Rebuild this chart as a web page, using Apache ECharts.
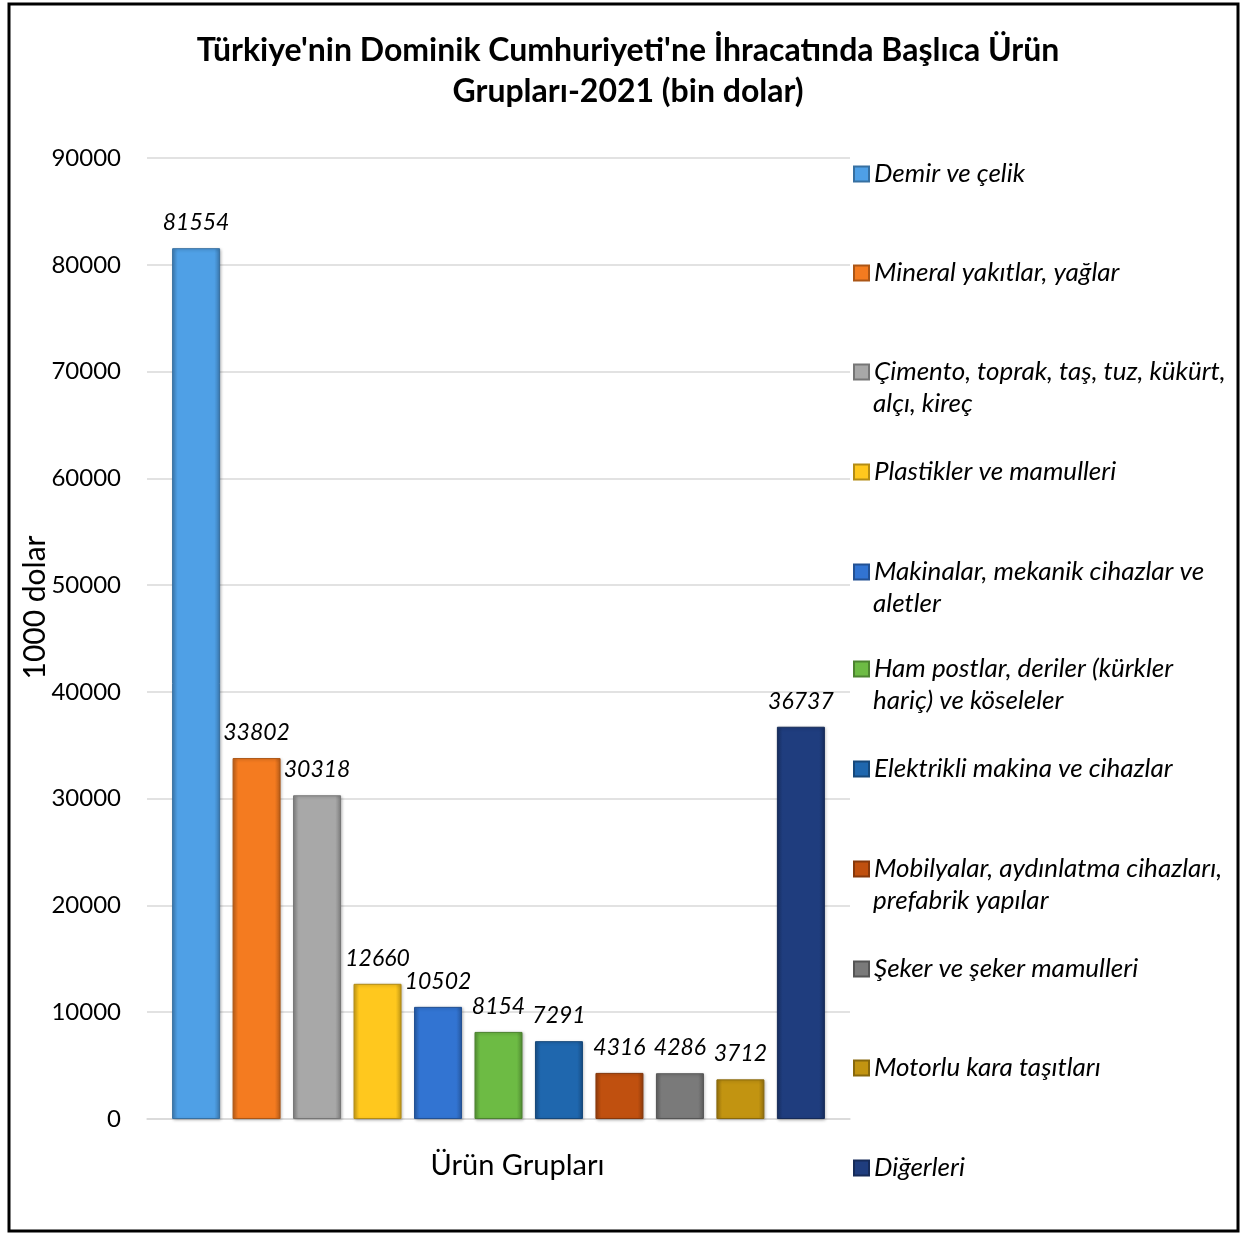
<!DOCTYPE html>
<html>
<head>
<meta charset="utf-8">
<script src="https://cdn.jsdelivr.net/npm/echarts@6/dist/echarts.min.js"></script>
<style>
  html, body { margin: 0; padding: 0; background: #fff; }
  #chart { width: 1246px; height: 1234px; }
</style>
</head>
<body>
<div id="chart"></div>
<script>
// data
const categories = ['Ürün Grupları'];
const productGroups = [
  'Demir ve çelik',
  'Mineral yakıtlar, yağlar',
  'Çimento, toprak, taş, tuz, kükürt, alçı, kireç',
  'Plastikler ve mamulleri',
  'Makinalar, mekanik cihazlar ve aletler',
  'Ham postlar, deriler (kürkler hariç) ve köseleler',
  'Elektrikli makina ve cihazlar',
  'Mobilyalar, aydınlatma cihazları, prefabrik yapılar',
  'Şeker ve şeker mamulleri',
  'Motorlu kara taşıtları',
  'Diğerleri'
];
// legend text as wrapped in the original
const legendLines = [
  ['Demir ve çelik'],
  ['Mineral yakıtlar, yağlar'],
  ['Çimento, toprak, taş, tuz, kükürt,', 'alçı, kireç'],
  ['Plastikler ve mamulleri'],
  ['Makinalar, mekanik cihazlar ve', 'aletler'],
  ['Ham postlar, deriler (kürkler', 'hariç) ve köseleler'],
  ['Elektrikli makina ve cihazlar'],
  ['Mobilyalar, aydınlatma cihazları,', 'prefabrik yapılar'],
  ['Şeker ve şeker mamulleri'],
  ['Motorlu kara taşıtları'],
  ['Diğerleri']
];
const exportValues = [81554, 33802, 30318, 12660, 10502, 8154, 7291, 4316, 4286, 3712, 36737];
const yTicks = [0, 10000, 20000, 30000, 40000, 50000, 60000, 70000, 80000, 90000];

const colors = ['#4FA0E6', '#F47B20', '#A8A8A8', '#FFC81E', '#3274D2', '#6DBB44',
  '#1F67AE', '#C0500F', '#7A7A7A', '#C29411', '#1F3D7E'];

const font = 'Lato, "Open Sans", sans-serif';

function shade(hex, f) {
  const n = parseInt(hex.slice(1), 16);
  let r = (n >> 16) & 255, g = (n >> 8) & 255, b = n & 255;
  const m = c => Math.max(0, Math.min(255, Math.round(f < 0 ? c * (1 + f) : c + (255 - c) * f)));
  return 'rgb(' + m(r) + ',' + m(g) + ',' + m(b) + ')';
}

const myChart = echarts.init(document.getElementById('chart'));

const series = productGroups.map((name, i) => ({
  name: name,
  type: 'bar',
  barWidth: 48,
  barGap: '26%',
  data: [exportValues[i]],
  itemStyle: {
    color: new echarts.graphic.LinearGradient(0, 0, 1, 0, [
      { offset: 0, color: shade(colors[i], -0.2) },
      { offset: 0.12, color: colors[i] },
      { offset: 0.88, color: colors[i] },
      { offset: 1, color: shade(colors[i], -0.25) }
    ]),
    borderColor: shade(colors[i], -0.3),
    borderWidth: 1,
    shadowColor: 'rgba(0,0,0,0.25)',
    shadowBlur: 3,
    shadowOffsetX: 1,
    shadowOffsetY: 1
  },
  label: {
    show: true,
    position: 'top',
    distance: 14,
    fontFamily: font,
    fontStyle: 'italic',
    fontSize: 23,
    color: '#000'
  }
}));

// one legend per text line so each row sits where it does in the original;
// continuation lines get no icon
const legendCenters = [174, 273, 372, 472, 572, 669, 769, 869, 969, 1068, 1168];
const lineH = 32;
const legends = [];
productGroups.forEach((name, i) => {
  legendLines[i].forEach((line, k) => {
    legends.push({
      data: [name],
      left: 853,
      top: legendCenters[i] + k * lineH - lineH / 2,
      padding: 0,
      itemWidth: 15,
      itemHeight: 15,
      icon: k === 0 ? 'rect' : 'none',
      selectedMode: false,
      formatter: () => line,
      textStyle: {
        fontFamily: font,
        fontStyle: 'italic',
        fontSize: 26,
        lineHeight: lineH,
        color: '#000'
      }
    });
  });
});

const option = {
  animation: false,
  backgroundColor: '#fff',
  title: {
    text: "Türkiye'nin Dominik Cumhuriyeti'ne İhracatında Başlıca Ürün\nGrupları-2021 (bin dolar)",
    left: 623,
    textAlign: 'center',
    top: 25,
    textStyle: {
      fontFamily: font,
      fontWeight: 'bold',
      fontSize: 32,
      lineHeight: 41,
      color: '#000'
    }
  },
  legend: legends,
  grid: { left: 147, right: 396, top: 158, bottom: 115 },
  xAxis: {
    type: 'category',
    data: categories,
    axisTick: { show: false },
    axisLine: { lineStyle: { color: '#d9d9d9', width: 1.5 } },
    axisLabel: {
      fontFamily: font,
      fontSize: 29,
      color: '#000',
      margin: 32,
      padding: [0, 0, 0, 38]
    }
  },
  yAxis: {
    type: 'value',
    min: yTicks[0],
    max: yTicks[yTicks.length - 1],
    interval: 10000,
    name: '1000 dolar',
    nameLocation: 'middle',
    nameGap: 97,
    nameMoveOverlap: false,
    nameRotate: 90,
    nameTextStyle: {
      fontFamily: font,
      fontSize: 30,
      color: '#000',
      padding: [0, 0, 0, 62]
    },
    axisLine: { show: false },
    axisTick: { show: false },
    axisLabel: {
      fontFamily: font,
      fontSize: 24,
      color: '#000',
      margin: 26,
      formatter: v => String(v)
    },
    splitLine: { lineStyle: { color: '#d9d9d9', width: 1.5 } }
  },
  series: series,
  graphic: [{
    type: 'rect',
    shape: { x: 9, y: 4, width: 1229, height: 1227 },
    style: { fill: 'none', stroke: '#000', lineWidth: 3 },
    z: 100
  }]
};

myChart.setOption(option);
</script>
</body>
</html>
